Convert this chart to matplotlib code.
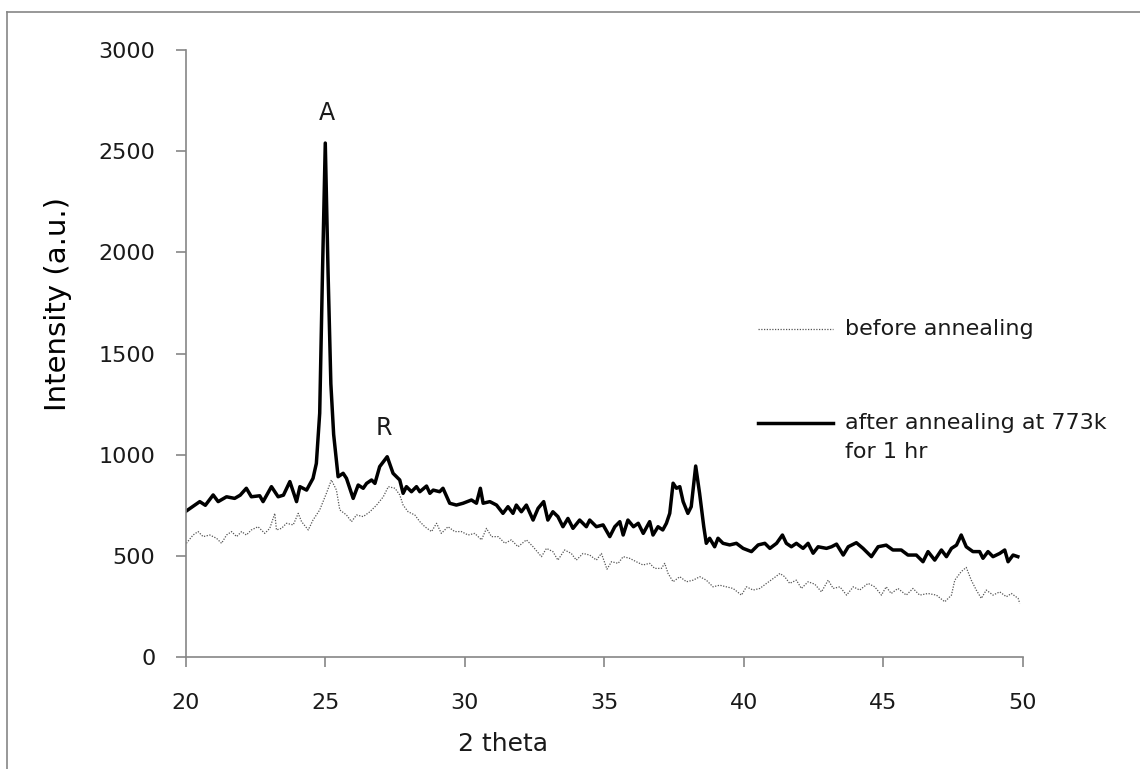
import matplotlib
matplotlib.use("Agg")
import matplotlib.pyplot as plt
from matplotlib.lines import Line2D

plt.rcParams["font.family"] = ["DejaVu Sans"]

# after annealing at 773k (solid)
after_x = [20.0, 20.32, 20.5, 20.7, 20.98, 21.16, 21.46, 21.75, 21.95, 22.17, 22.35, 22.65, 22.77,
           23.07, 23.31, 23.5, 23.73, 23.97, 24.09, 24.33, 24.56, 24.68, 24.8, 24.9, 25.0, 25.1,
           25.2, 25.3, 25.46, 25.64, 25.76, 26.0, 26.18, 26.36, 26.48, 26.66, 26.78, 26.95, 27.22,
           27.43, 27.67, 27.79, 27.91, 28.09, 28.27, 28.39, 28.63, 28.75, 28.87, 29.1, 29.22, 29.46,
           29.7, 29.94, 30.24, 30.42, 30.56, 30.66, 30.9, 31.14, 31.37, 31.55, 31.73, 31.85, 32.03,
           32.21, 32.45, 32.63, 32.83, 32.98, 33.16, 33.34, 33.52, 33.7, 33.88, 34.12, 34.36, 34.48,
           34.72, 34.96, 35.2, 35.38, 35.56, 35.68, 35.85, 36.05, 36.22, 36.4, 36.63, 36.75, 36.93,
           37.1, 37.23, 37.35, 37.47, 37.59, 37.71, 37.83, 38.0, 38.12, 38.28, 38.42, 38.57, 38.66,
           38.78, 38.96, 39.08, 39.26, 39.5, 39.74, 39.98, 40.28, 40.52, 40.76, 40.94, 41.18, 41.39,
           41.53, 41.71, 41.89, 42.13, 42.31, 42.49, 42.67, 42.97, 43.15, 43.33, 43.57, 43.75, 44.04,
           44.28, 44.58, 44.82, 45.11, 45.35, 45.65, 45.89, 46.19, 46.43, 46.61, 46.85, 47.09, 47.27,
           47.45, 47.63, 47.8, 47.98, 48.22, 48.46, 48.58, 48.76, 48.94, 49.18, 49.36, 49.48, 49.66,
           49.83]
after_y = [720, 751, 768, 750, 801, 768, 792, 784, 800, 834, 792, 797, 768,
           842, 792, 800, 867, 768, 842, 825, 883, 957, 1205, 1900, 2540, 1900,
           1350, 1100, 891, 908, 883, 784, 850, 834, 858, 875, 858, 941, 990,
           908, 875, 809, 842, 817, 842, 817, 845, 809, 825, 817, 834, 760,
           751, 760, 776, 760, 834, 760, 768, 751, 710, 743, 710, 751, 718,
           751, 677, 735, 768, 677, 718, 694, 644, 685, 636, 677, 644, 677,
           644, 653, 595, 644, 669, 603, 677, 644, 661, 611, 669, 603, 644,
           628, 661, 710, 859, 834, 842, 768, 710, 743, 944, 809, 644, 562,
           587, 545, 587, 562, 554, 562, 537, 521, 554, 562, 537, 562, 603,
           562, 545, 562, 537, 562, 513, 545, 537, 545, 558, 504, 545, 565,
           537, 496, 545, 553, 529, 529, 504, 504, 471, 521, 479, 529, 496,
           537, 553, 603, 545, 521, 521, 488, 521, 496, 512, 529, 471, 504,
           496]

# before annealing (dotted)
before_x = [20.02, 20.26, 20.44, 20.62, 20.86, 21.1, 21.28, 21.46, 21.64, 21.82, 22.0, 22.17, 22.35,
            22.59, 22.83, 23.01, 23.19, 23.25, 23.43, 23.61, 23.85, 24.03, 24.15, 24.39, 24.56, 24.8,
            25.04, 25.22, 25.4, 25.52, 25.76, 25.94, 26.12, 26.36, 26.6, 26.84, 27.08, 27.26, 27.5,
            27.67, 27.79, 27.97, 28.21, 28.39, 28.57, 28.81, 28.99, 29.16, 29.4, 29.64, 29.88, 30.12,
            30.36, 30.6, 30.78, 30.96, 31.2, 31.44, 31.67, 31.91, 32.21, 32.45, 32.75, 32.93, 33.16,
            33.34, 33.58, 33.82, 34.0, 34.24, 34.48, 34.72, 34.9, 35.1, 35.26, 35.5, 35.68, 35.91,
            36.15, 36.39, 36.63, 36.81, 37.05, 37.17, 37.29, 37.47, 37.71, 37.95, 38.19, 38.43, 38.66,
            38.9, 39.14, 39.38, 39.62, 39.92, 40.1, 40.34, 40.58, 40.82, 41.06, 41.3, 41.47, 41.65,
            41.89, 42.07, 42.31, 42.55, 42.79, 43.03, 43.21, 43.45, 43.69, 43.93, 44.16, 44.46, 44.7,
            44.94, 45.11, 45.29, 45.53, 45.83, 46.07, 46.31, 46.61, 46.91, 47.21, 47.45, 47.57, 47.8,
            47.98, 48.16, 48.34, 48.52, 48.7, 48.94, 49.18, 49.42, 49.6, 49.84, 49.9]
before_y = [562, 603, 620, 595, 603, 587, 562, 603, 620, 595, 620, 603, 628,
            644, 611, 636, 710, 628, 636, 661, 653, 710, 669, 628, 677, 727,
            809, 875, 825, 727, 702, 669, 702, 694, 718, 751, 792, 842, 834,
            801, 751, 718, 702, 669, 644, 620, 661, 611, 644, 620, 620, 603,
            611, 579, 636, 595, 595, 562, 579, 545, 579, 545, 496, 537, 521,
            479, 529, 512, 479, 512, 504, 479, 512, 434, 471, 463, 496, 488,
            471, 455, 463, 438, 438, 463, 413, 372, 397, 372, 380, 397, 380,
            347, 355, 347, 339, 306, 347, 331, 339, 364, 388, 413, 397, 364,
            380, 339, 372, 360, 322, 380, 339, 347, 306, 347, 331, 364, 347,
            306, 347, 314, 339, 306, 339, 306, 314, 306, 273, 306, 380, 422,
            443, 380, 331, 290, 331, 306, 322, 298, 314, 290, 265]

peak_labels = ["A", "R"]
peak_pos = [(25.05, 2690), (27.11, 1130)]

x_ticks = [20, 25, 30, 35, 40, 45, 50]
y_ticks = [0, 500, 1000, 1500, 2000, 2500, 3000]

fig = plt.figure(figsize=(11.4, 7.69), dpi=100)
ax = fig.add_axes([0.163, 0.1456, 0.734, 0.7894])

grey = "#868686"
txt = "#1a1a1a"

ax.plot(before_x, before_y, color="#555555", lw=0.9, linestyle=(0, (1, 1.2)))
ax.plot(after_x, after_y, color="black", lw=2.5)

for lab, (px, py) in zip(peak_labels, peak_pos):
    ax.text(px, py, lab, ha="center", va="center", fontsize=17, color=txt)

ax.set_xlim(20, 50)
ax.set_ylim(0, 3000)
ax.set_xticks(x_ticks)
ax.set_yticks(y_ticks)

for s in ["top", "right"]:
    ax.spines[s].set_visible(False)
for s in ["left", "bottom"]:
    ax.spines[s].set_color(grey)
    ax.spines[s].set_linewidth(1.2)

ax.tick_params(axis="y", direction="out", length=7, width=1.2, color=grey,
               labelsize=16, labelcolor=txt, pad=15)
ax.tick_params(axis="x", direction="out", length=7, width=1.2, color=grey,
               labelsize=16, labelcolor=txt, pad=19)

ax.set_ylabel("Intensity (a.u.)", fontsize=21, color="black")
ax.yaxis.set_label_coords(-0.136, 0.582)
ax.set_xlabel("2 theta", fontsize=18, color=txt)
ax.xaxis.set_label_coords(0.379, -0.124)

# legend drawn by hand to keep the Excel-style placement
ax.plot([0.684, 0.773], [0.541, 0.541], transform=ax.transAxes, color="#555555",
        lw=0.9, linestyle=(0, (1, 1.2)), clip_on=False)
ax.text(0.788, 0.541, "before annealing", transform=ax.transAxes, fontsize=16,
        color=txt, va="center")
ax.plot([0.684, 0.773], [0.386, 0.386], transform=ax.transAxes, color="black",
        lw=2.5, clip_on=False)
ax.text(0.788, 0.386, "after annealing at 773k", transform=ax.transAxes, fontsize=16,
        color=txt, va="center")
ax.text(0.788, 0.337, "for 1 hr", transform=ax.transAxes, fontsize=16,
        color=txt, va="center")

# chart border: only left and top edges show in the crop
fig.lines.append(Line2D([0.006, 0.006], [0.0, 0.984], transform=fig.transFigure,
                        color=grey, lw=1.2))
fig.lines.append(Line2D([0.006, 1.0], [0.984, 0.984], transform=fig.transFigure,
                        color=grey, lw=1.2))

fig.savefig("out.png", dpi=100)
